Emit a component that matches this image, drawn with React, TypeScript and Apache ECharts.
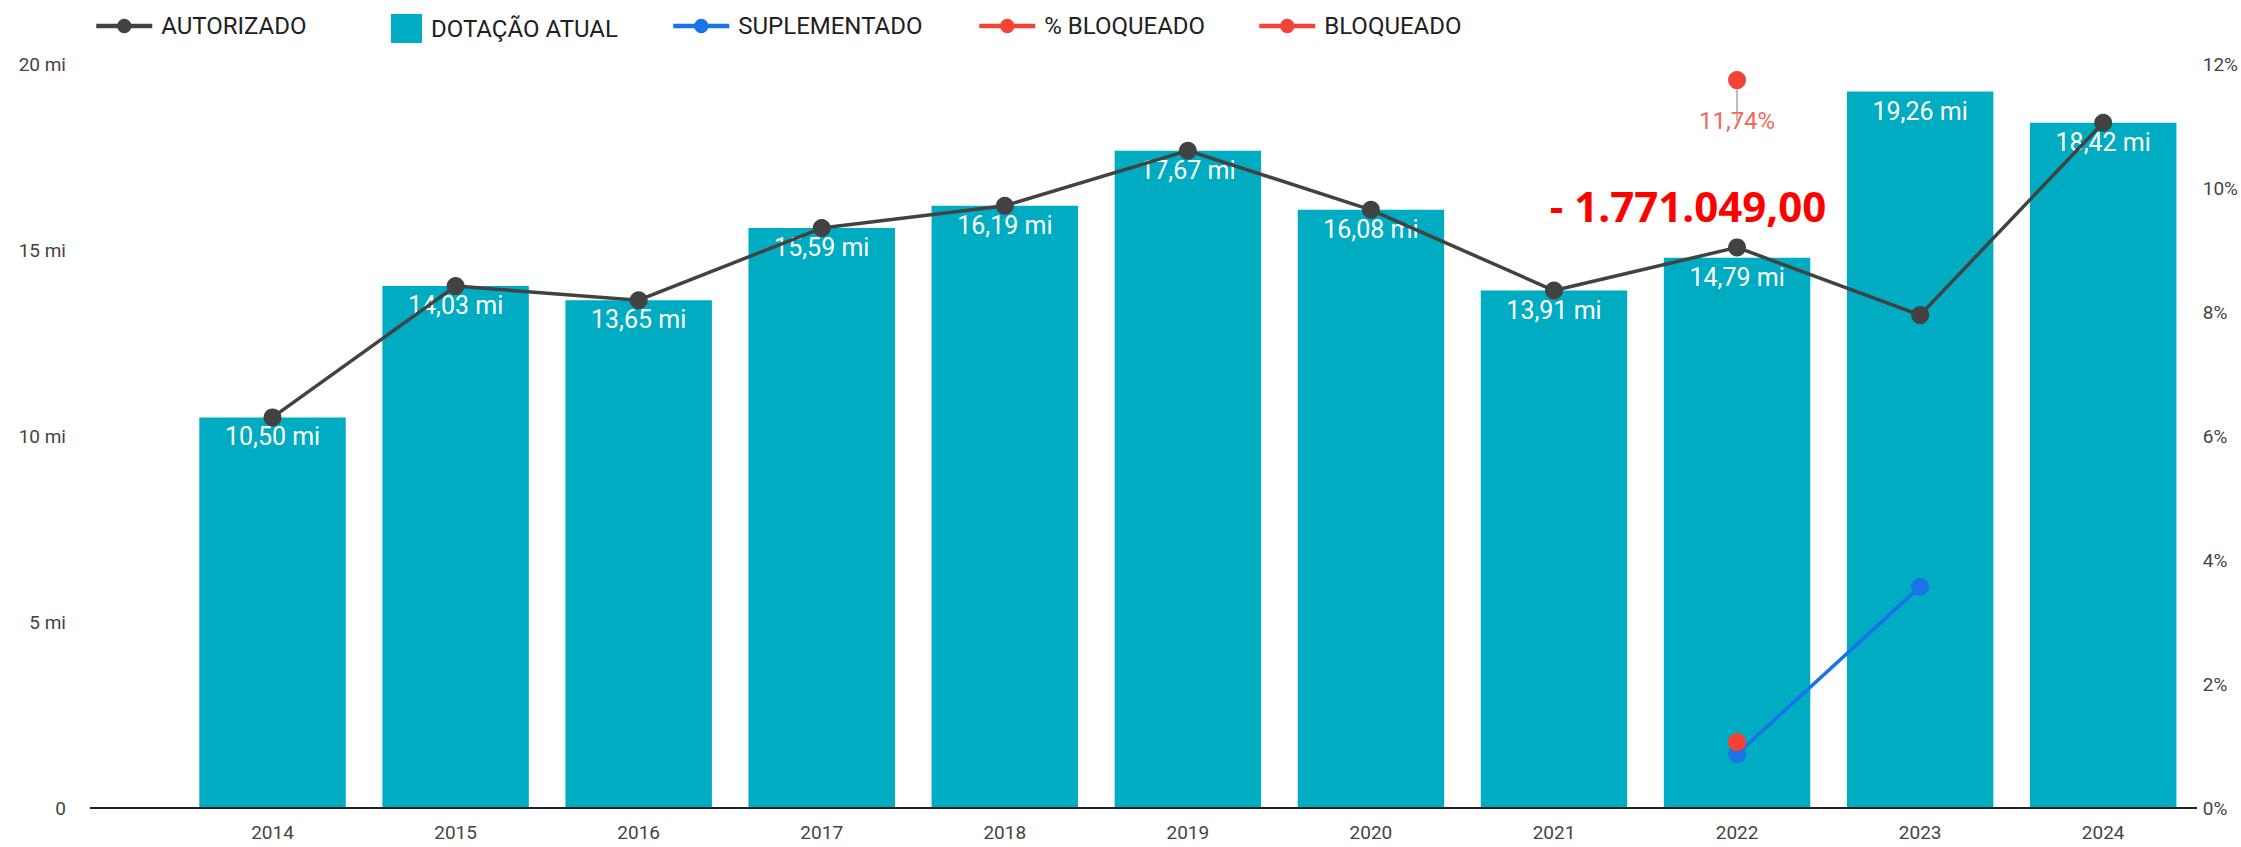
import { useEffect, useRef } from 'react';
import * as echarts from 'echarts';

// ---- data ----
const years = ['2014', '2015', '2016', '2017', '2018', '2019', '2020', '2021', '2022', '2023', '2024'];
const dotacaoAtual = [10.5, 14.03, 13.65, 15.59, 16.19, 17.67, 16.08, 13.91, 14.79, 19.26, 18.42];
const autorizado = [10.5, 14.03, 13.65, 15.59, 16.19, 17.67, 16.08, 13.91, 15.07, 13.25, 18.42];
const suplementado = [null, null, null, null, null, null, null, null, 1.45, 5.95, null];
const pctBloqueado = [null, null, null, null, null, null, null, null, 11.74, null, null];
const bloqueado = [null, null, null, null, null, null, null, null, 1.771049, null, null];
const bloqueadoValor = 1771049.0;
const bloqueadoAno = '2022';

const leftAxis = { min: 0, max: 20, interval: 5 };
const rightAxis = { min: 0, max: 12, interval: 2 };

const legendNames = ['AUTORIZADO', 'DOTAÇÃO ATUAL', 'SUPLEMENTADO', '% BLOQUEADO', 'BLOQUEADO'];

const fmtBR = (v: number, dec: number) => {
  const fixed = v.toFixed(dec);
  const [intPart, decPart] = fixed.split('.');
  const withDots = intPart.replace(/\B(?=(\d{3})+(?!\d))/g, '.');
  return decPart ? withDots + ',' + decPart : withDots;
};

const TEAL = '#00ACC1';
const DARK = '#424242';
const BLUE = '#1A73E8';
const RED = '#F44336';
const AXIS_TXT = '#444444';

export default function App() {
  const ref = useRef<HTMLDivElement>(null);

  useEffect(() => {
    if (!ref.current) return;
    const chart = echarts.init(ref.current, null, { renderer: 'svg' });

    const gridLeft = 181;
    const gridRight = 44;
    const gridTop = 64;
    const gridBottom = 39;

    const mkLegend = (name: string, left: number, opts: any = {}) => ({
      data: [name],
      left,
      top: 9,
      itemWidth: 56,
      itemHeight: 18,
      selectedMode: false,
      lineStyle: { width: 4.5 },
      textStyle: { fontFamily: 'Roboto', fontSize: 24, color: '#212121', padding: [0, 0, 0, 4] },
      ...opts,
    });

    const autorizadoData = autorizado.map((v, i) =>
      years[i] === bloqueadoAno
        ? {
            value: v,
            label: {
              show: true,
              position: 'top',
              distance: 12,
              offset: [-49, 0],
              formatter: () => '- ' + fmtBR(bloqueadoValor, 2),
              fontFamily: 'Open Sans',
              fontWeight: 'bold',
              fontSize: 42,
              color: '#FF0000',
            },
          }
        : v
    );

    chart.setOption({
      animation: false,
      backgroundColor: '#ffffff',
      legend: [
        mkLegend(legendNames[0], 89),
        mkLegend(legendNames[1], 386, { icon: 'rect', itemWidth: 31, itemHeight: 29 }),
        mkLegend(legendNames[2], 666),
        mkLegend(legendNames[3], 972),
        mkLegend(legendNames[4], 1252),
      ],
      grid: { left: gridLeft, right: gridRight, top: gridTop, bottom: gridBottom, containLabel: false },
      xAxis: {
        type: 'category',
        data: years,
        boundaryGap: true,
        axisLine: { show: false },
        axisTick: { show: false },
        axisLabel: { fontFamily: 'Roboto', fontSize: 19, color: AXIS_TXT, margin: 15 },
        splitLine: { show: false },
      },
      yAxis: [
        {
          type: 'value',
          ...leftAxis,
          axisLine: { show: false },
          axisTick: { show: false },
          splitLine: { show: false },
          axisLabel: {
            fontFamily: 'Roboto',
            fontSize: 19,
            color: AXIS_TXT,
            margin: 115,
            formatter: (v: number) => (v === 0 ? '0' : v + ' mi'),
          },
        },
        {
          type: 'value',
          ...rightAxis,
          position: 'right',
          axisLine: { show: false },
          axisTick: { show: false },
          splitLine: { show: false },
          axisLabel: {
            fontFamily: 'Roboto',
            fontSize: 19,
            color: AXIS_TXT,
            margin: 8,
            formatter: (v: number) => v + '%',
          },
        },
      ],
      series: [
        {
          name: legendNames[1],
          type: 'bar',
          data: dotacaoAtual,
          barCategoryGap: '20%',
          itemStyle: { color: TEAL },
          z: 2,
          label: {
            show: true,
            position: 'insideTop',
            distance: 7,
            color: '#ffffff',
            fontFamily: 'Roboto',
            fontSize: 25,
            formatter: (p: any) => fmtBR(p.value, 2) + ' mi',
          },
        },
        {
          name: legendNames[2],
          type: 'line',
          data: suplementado,
          symbol: 'circle',
          symbolSize: 18,
          lineStyle: { color: BLUE, width: 3.5 },
          itemStyle: { color: BLUE },
          z: 4,
        },
        {
          name: legendNames[0],
          type: 'line',
          data: autorizadoData,
          symbol: 'circle',
          symbolSize: 18,
          lineStyle: { color: DARK, width: 3.5 },
          itemStyle: { color: DARK },
          z: 5,
        },
        {
          name: legendNames[3],
          type: 'line',
          yAxisIndex: 1,
          data: pctBloqueado,
          symbol: 'circle',
          symbolSize: 18,
          lineStyle: { color: RED, width: 3.5 },
          itemStyle: { color: RED },
          z: 6,
          label: {
            show: true,
            position: 'bottom',
            distance: 20,
            fontFamily: 'Roboto',
            fontSize: 24,
            color: '#F4665A',
            formatter: (p: any) => fmtBR(p.value, 2) + '%',
          },
          labelLine: { show: true, length2: 0, lineStyle: { color: '#BBBBBB', width: 2 } },
        },
        {
          name: legendNames[4],
          type: 'line',
          data: bloqueado,
          symbol: 'circle',
          symbolSize: 18,
          lineStyle: { color: RED, width: 3.5 },
          itemStyle: { color: RED },
          z: 7,
        },
      ],
      graphic: [
        {
          type: 'line',
          shape: { x1: 90, y1: 808, x2: 2241 - gridRight, y2: 808 },
          style: { stroke: '#222222', lineWidth: 2 },
          z: 10,
        },
      ],
    });

    return () => chart.dispose();
  }, []);

  return (
    <div
      ref={ref}
      style={{ position: 'absolute', left: 0, top: 0, width: 2241, height: 847, background: '#fff' }}
    />
  );
}
